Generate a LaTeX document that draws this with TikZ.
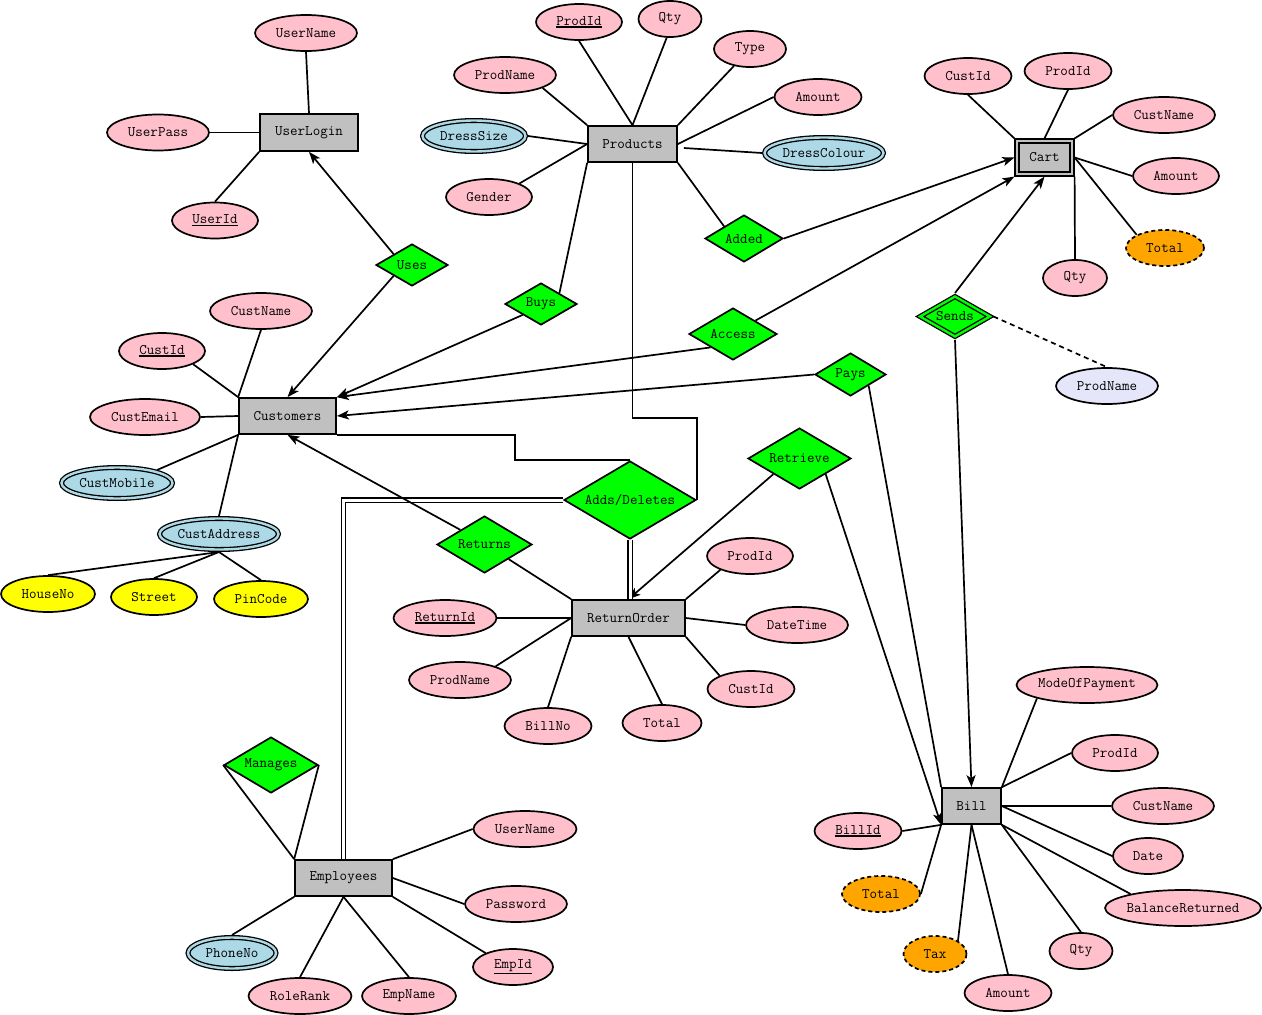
\documentclass[tikz,border=0pt]{standalone}
\usepackage{fontspec}
\usetikzlibrary{shapes.geometric,arrows.meta,calc}
\definecolor{entgray}{HTML}{C0C0C0}
\definecolor{attrpink}{HTML}{FFC0CB}
\definecolor{multiblue}{HTML}{ADD8E6}
\definecolor{relgreen}{HTML}{00FF00}
\definecolor{compyellow}{HTML}{FFFF00}
\definecolor{derivorange}{HTML}{FFA500}
\definecolor{lavend}{HTML}{E6E6FA}
\newcommand\ukey[1]{\vtop{\hbox{#1}\kern1pt\hrule height 1.5pt}}
\begin{document}
\begin{tikzpicture}[x=1pt,y=-1pt,
  base/.style={draw, line width=1.7pt, inner sep=0pt,
    font=\ttfamily\fontsize{14.6}{16}\selectfont,
    execute at begin node={\hbox to 0pt\bgroup\hss},
    execute at end node={\hss\egroup}},
  sz/.style 2 args={minimum width=#1pt, minimum height=#2pt},
  aw/.style={minimum width=#1pt},
  ent/.style={base, rectangle, fill=entgray},
  weakent/.style={base, rectangle, fill=entgray, double=entgray, double distance=2.6pt, line width=1.3pt, outer sep=2.6pt},
  attr/.style={base, ellipse, fill=attrpink, minimum height=36pt},
  multi/.style={base, ellipse, fill=multiblue, double=multiblue, double distance=2.4pt, line width=1.3pt, minimum height=31pt, outer sep=2.5pt},
  deriv/.style={attr, fill=derivorange, dash pattern=on 4pt off 3pt},
  comp/.style={attr, fill=compyellow},
  lav/.style={attr, fill=lavend},
  rel/.style={base, diamond, fill=relgreen},
  weakrel/.style={base, diamond, fill=relgreen, double=relgreen, double distance=2.4pt, line width=1.3pt, outer sep=2.5pt},
  con/.style={line width=1.7pt},
  arr/.style={con, -{Stealth[length=12pt,width=9pt,inset=3pt]}},
  dbl/.style={line width=1.4pt, draw=black, double=white, double distance=3pt}
]
\useasboundingbox (0,0) rectangle (1262,1015);
\fill[white] (0,0) rectangle (1262,1015);

% entities
\node[ent, sz={98}{37}] (UserLogin) at (309,132.5) {UserLogin};
\node[ent, sz={89}{36}] (Products) at (632.5,144) {Products};
\node[weakent, sz={55}{33}] (Cart) at (1044.5,157.5) {Cart};
\node[ent, sz={97}{36}] (Customers) at (287.5,416) {Customers};
\node[ent, sz={113}{36}] (ReturnOrder) at (628.5,618) {ReturnOrder};
\node[ent, sz={59}{36}] (Bill) at (971.5,806) {Bill};
\node[ent, sz={97}{36}] (Employees) at (343.5,878) {Employees};

% relationships
\node[rel, sz={72}{42}] (Uses) at (412,265) {Uses};
\node[rel, sz={72}{42}] (Buys) at (541,304) {Buys};
\node[rel, sz={78}{47}] (Added) at (744,238.5) {Added};
\node[rel, sz={88}{52}] (Access) at (733,334) {Access};
\node[rel, sz={71}{43}] (Pays) at (850.5,374.5) {Pays};
\node[weakrel, sz={72}{42}] (Sends) at (955,316.5) {Sends};
\node[rel, sz={103}{61}] (Retrieve) at (799.5,458.5) {Retrieve};
\node[rel, sz={132}{78}] (Adds) at (630,500) {Adds/Deletes};
\node[rel, sz={95}{57}] (Returns) at (484.5,544.5) {Returns};
\node[rel, sz={94}{56}] (Manages) at (271,765) {Manages};

% UserLogin attributes
\node[attr, aw=102] (UserName) at (306,33) {UserName};
\node[attr, aw=102] (UserPass) at (158,132.5) {UserPass};
\node[attr, aw=86] (UserId) at (215,220.5) {\ukey{UserId}};

% Products attributes
\node[attr, aw=86] (ProdId) at (579,22) {\ukey{ProdId}};
\node[attr, aw=63] (PQty) at (670,19) {Qty};
\node[attr, aw=72] (PType) at (750,49) {Type};
\node[attr, aw=102] (PName) at (505,75) {ProdName};
\node[attr, aw=87] (PAmount) at (818,97) {Amount};
\node[multi, aw=103] (DressSize) at (474,136) {DressSize};
\node[multi, aw=119] (DressColour) at (824,153) {DressColour};
\node[attr, aw=86] (Gender) at (489,197) {Gender};

% Cart attributes
\node[attr, aw=87] (CCustId) at (968,76) {CustId};
\node[attr, aw=87] (CProdId) at (1068,71) {ProdId};
\node[attr, aw=102] (CCustName) at (1164,115) {CustName};
\node[attr, aw=86] (CAmount) at (1176,176) {Amount};
\node[deriv, aw=78] (CTotal) at (1165,248) {Total};
\node[attr, aw=64] (CQty) at (1075,278) {Qty};
\node[lav, aw=102] (CProdName) at (1107,386) {ProdName};

% Customers attributes
\node[attr, aw=102] (CustName) at (261,311) {CustName};
\node[attr, aw=86] (CustId) at (162,351) {\ukey{CustId}};
\node[attr, aw=110] (CustEmail) at (145,417) {CustEmail};
\node[multi, aw=111] (CustMobile) at (117,483) {CustMobile};
\node[multi, aw=119] (CustAddress) at (219,534) {CustAddress};
\node[comp, aw=94] (HouseNo) at (48,594) {HouseNo};
\node[comp, aw=86] (Street) at (154,597) {Street};
\node[comp, aw=94] (PinCode) at (261,599) {PinCode};

% ReturnOrder attributes
\node[attr, aw=86] (RProdId) at (750,556) {ProdId};
\node[attr, aw=102] (RDateTime) at (797,625) {DateTime};
\node[attr, aw=87] (RCustId) at (751,689) {CustId};
\node[attr, aw=79] (RTotal) at (662,723) {Total};
\node[attr, aw=87] (RBillNo) at (548,726) {BillNo};
\node[attr, aw=102] (RProdName) at (460,680) {ProdName};
\node[attr, aw=103] (RReturnId) at (445,618) {\ukey{ReturnId}};

% Bill attributes
\node[attr, aw=141] (BMode) at (1087,685) {ModeOfPayment};
\node[attr, aw=86] (BProdId) at (1115,753) {ProdId};
\node[attr, aw=102] (BCustName) at (1163,806) {CustName};
\node[attr, aw=70] (BDate) at (1148,856) {Date};
\node[attr, aw=156] (BBalance) at (1183,908) {BalanceReturned};
\node[attr, aw=63] (BQty) at (1081,951) {Qty};
\node[attr, aw=87] (BAmount) at (1008,993) {Amount};
\node[deriv, aw=63] (BTax) at (935,954) {Tax};
\node[deriv, aw=78] (BTotal) at (881,894) {Total};
\node[attr, aw=87] (BBillId) at (858,831) {\ukey{BillId}};

% Employees attributes
\node[attr, aw=103] (EUserName) at (525,829) {UserName};
\node[attr, aw=102] (EPassword) at (516,904) {Password};
\node[attr, aw=80] (EEmpId) at (513,967) {\ukey{EmpId}};
\node[attr, aw=94] (EEmpName) at (409,996) {EmpName};
\node[attr, aw=103] (ERoleRank) at (300,996) {RoleRank};
\node[multi, aw=88] (EPhoneNo) at (232,953) {PhoneNo};

% UserLogin connectors
\draw[con] (UserName.south) -- (UserLogin.north);
\draw[con] (UserPass.east) -- (UserLogin.west);
\draw[con] (UserId.north) -- (UserLogin.south west);
\draw[arr] (Uses.north west) -- (UserLogin.south);
\draw[arr] (Uses.south west) -- (Customers.north);

% Products connectors
\draw[con] (ProdId.south) -- (Products.north);
\draw[con] (PQty.-100) -- (Products.north);
\draw[con] (PType) -- (Products.north east);
\draw[con] (PAmount.west) -- (Products.east);
\draw[con] ($(Products.east)+(6,4)$) -- (DressColour.west);
\draw[con] (PName.-19) -- (Products.north west);
\draw[con] (DressSize.east) -- (Products.west);
\draw[con] (Gender.24) -- (Products.west);
\draw[con] (Products.south west) -- (Buys.north east);
\draw[con] (Products.south) -- ($(Products.south)+(0,255)$) -| (Adds.east);
\draw[con] (Products.south east) -- (Added.north west);
\draw[arr] (Added.east) -- (Cart.west);
\draw[arr] (Access.north east) -- (Cart.south west);
\draw[arr] (Sends.north) -- (Cart.south);

% Cart connectors
\draw[con] (CCustId.south) -- (Cart.north west);
\draw[con] (CProdId.south) -- (Cart.north);
\draw[con] (CCustName.west) -- (Cart.north east);
\draw[con] (CAmount.west) -- (Cart.east);
\draw[con] (CTotal.155) -- (Cart.east);
\draw[con] (CQty.north) -- (Cart.south east);
\draw[arr] (Sends.south) -- (Bill.north);
\draw[con, dash pattern=on 5pt off 4pt] (Sends.east) -- (CProdName.north);

% Customers connectors
\draw[con] (CustName.south) -- (Customers.north west);
\draw[con] (CustId.-23) -- (Customers.north west);
\draw[con] (CustEmail.east) -- (Customers.west);
\draw[con] (CustMobile.18) -- (Customers.south west);
\draw[con] (CustAddress.north) -- (Customers.south west);
\draw[con] (CustAddress.south) -- (HouseNo.north);
\draw[con] (CustAddress.south) -- (Street.north);
\draw[con] (CustAddress.south) -- (PinCode.north);
\draw[arr] (Buys.south west) -- (Customers.north east);
\draw[arr] (Access.south west) -- (Customers.north east);
\draw[arr] (Pays.west) -- (Customers.east);
\draw[con] (Pays.south east) -- (Bill.north west);
\draw[arr] (Retrieve.south west) -- (ReturnOrder.north);
\draw[arr] (Retrieve.south east) -- (Bill.south west);
\draw[dbl] (Adds.south) -- (Adds.south |- ReturnOrder.north);
\draw[con] (Adds.north) -| ($(Customers.south east)+(178,0)$) -- (Customers.south east);
\draw[dbl] (Adds.west) -| (Employees.north);
\draw[arr] (Returns.north west) -- (Customers.south);
\draw[con] (Returns.south east) -- (ReturnOrder.north west);

% ReturnOrder connectors
\draw[con] (RProdId.205) -- (ReturnOrder.north east);
\draw[con] (RDateTime.west) -- (ReturnOrder.east);
\draw[con] (RCustId.157) -- (ReturnOrder.south east);
\draw[con] (RTotal.north) -- (ReturnOrder.south);
\draw[con] (RBillNo.north) -- (ReturnOrder.south west);
\draw[con] (RProdName.21) -- (ReturnOrder.west);
\draw[con] (RReturnId.east) -- (ReturnOrder.west);

% Bill connectors
\draw[con] (BMode.195) -- (Bill.north east);
\draw[con] (BProdId.west) -- (Bill.north east);
\draw[con] (BCustName.west) -- (Bill.east);
\draw[con] (BDate.west) -- (Bill.east);
\draw[con] (BBalance.165) -- (Bill.south east);
\draw[con] (BQty.north) -- (Bill.south east);
\draw[con] (BAmount.north) -- (Bill.south);
\draw[con] (BTax.30) -- (Bill.south);
\draw[con] (BTotal.east) -- (Bill.south west);
\draw[con] (BBillId.east) -- (Bill.south west);

% Employees connectors
\draw[con] (Manages.west) -- (Employees.north west);
\draw[con] (Manages.east) -- (Employees.north west);
\draw[con] (EUserName.west) -- (Employees.north east);
\draw[con] (EPassword.west) -- (Employees.east);
\draw[con] (EEmpId.153) -- (Employees.south east);
\draw[con] (EEmpName.north) -- (Employees.south);
\draw[con] (ERoleRank.north) -- (Employees.south);
\draw[con] (EPhoneNo.north) -- (Employees.south west);
\end{tikzpicture}
\end{document}
